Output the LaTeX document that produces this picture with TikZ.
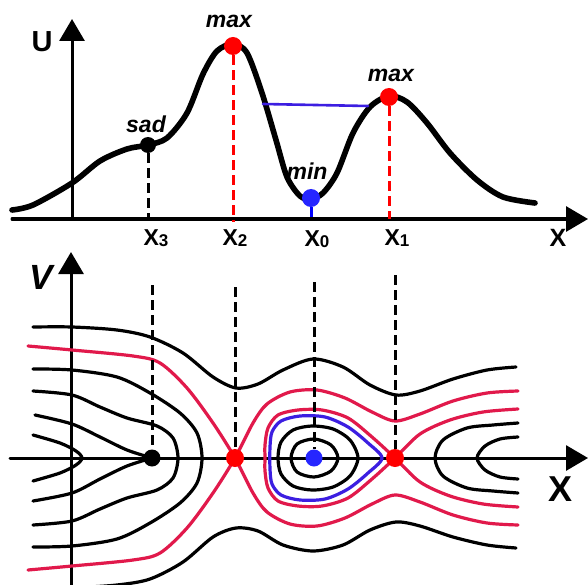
\documentclass[tikz,border=0pt]{standalone}
\usepackage{fontspec}
\setmainfont{Liberation Sans}
\usetikzlibrary{arrows.meta}
\definecolor{sepred}{RGB}{225,25,75}
\definecolor{orbblue}{RGB}{60,30,225}
\newcommand{\xsub}[1]{X\raisebox{-1.5pt}{\fontsize{17}{17}\selectfont #1}}
\begin{document}
\begin{tikzpicture}[x=1pt, y=-1pt, line cap=round, line join=round,
  axis/.style={line width=3pt, -{Triangle[length=22pt,width=25pt]}},
  dot/.style={circle, inner sep=0pt, minimum size=18pt},
  guide/.style={line width=3pt, dash pattern=on 10pt off 5pt, line cap=butt},
  traj/.style={line width=3.2pt},
  sep/.style={traj, draw=sepred},
  lbl/.style={font=\bfseries\itshape\fontsize{23}{23}\selectfont},
  tick/.style={font=\bfseries\fontsize{23}{23}\selectfont}]
  \fill[white] (0,0) rectangle (588,585);
  \useasboundingbox (0,0) rectangle (588,585);
  % potential U(x)
  \coordinate (x3) at (148,219);
  \coordinate (x2) at (233,222);
  \coordinate (x0) at (311,222);
  \coordinate (x1) at (389,219);
  \coordinate (lvlL) at (263,104);
  \coordinate (lvlR) at (368,106);
  \draw[axis] (12,219) -- (588,219);
  \draw[axis] (72,219) -- (72,19);
  \node[font=\bfseries\fontsize{29}{29}\selectfont] (ulbl) at (42,42) {U};
  \node[font=\bfseries\fontsize{25}{25}\selectfont] (xlbl) at (558,238) {X};
  \draw[line width=5.6pt] plot[smooth] coordinates {(12,210) (33,205) (72,183) (100,161) (127,149) (148,145) (167,138) (187,113) (203,74) (217,51) (233,44) (247,53) (262,93) (276,140) (287,177) (300,196) (311,199) (323,193) (337,173) (353,133) (370,107) (389,96) (407,102) (427,123) (450,153) (477,180) (503,197) (535,203)};
  \draw[line width=2.6pt, orbblue] (lvlL) -- (lvlR);
  \node[dot, fill=black, minimum size=16pt] (sad) at (148,145) {};
  \node[dot, fill=red] (max2) at (233,46) {};
  \node[dot, fill=blue!85!white] (min) at (311,198) {};
  \node[dot, fill=red] (max1) at (389,97) {};
  \draw[guide] (sad) -- (x3);
  \draw[guide, red] (max2) -- (x2);
  \draw[guide, blue] (min) -- (x0);
  \draw[guide, red] (max1) -- (x1);
  \node[lbl] (maxlbl2) at (229,21) {max};
  \node[lbl] (sadlbl) at (146,124) {sad};
  \node[lbl] (minlbl) at (307,171) {min};
  \node[lbl] (maxlbl1) at (391,75) {max};
  \node[tick] (x3lbl) at (156,238) {\xsub{3}};
  \node[tick] (x2lbl) at (235,238) {\xsub{2}};
  \node[tick] (x0lbl) at (317,239) {\xsub{0}};
  \node[tick] (x1lbl) at (397,238) {\xsub{1}};
  % phase portrait
  \draw[axis] (10,458) -- (588,458);
  \draw[axis] (71,585) -- (71,252);
  \node[font=\bfseries\itshape\fontsize{35}{35}\selectfont] (vlbl) at (41,277) {V};
  \node[font=\bfseries\fontsize{36}{36}\selectfont] (xlbl2) at (560,489) {X};
  \draw[traj] plot[smooth] coordinates {(33,327) (72,327) (117,330) (150,337) (183,353) (213,377) (236,388) (258,384) (283,370) (313,359) (343,367) (370,385) (396,395) (420,391) (453,379) (487,370) (516,367)};
  \draw[traj] plot[smooth] coordinates {(33,591) (72,588) (117,585) (150,579) (183,562) (213,537) (236,528) (258,531) (283,545) (313,551) (343,545) (370,530) (396,522) (420,526) (453,537) (487,545) (516,548)};
  \draw[traj] plot[smooth] coordinates {(33,369) (72,370) (117,377) (150,393) (180,413) (197,433) (202,458) (197,483) (180,503) (150,523) (117,539) (72,546) (33,547)};
  \draw[traj] plot[smooth] coordinates {(33,391) (72,395) (100,407) (127,418) (157,426) (173,438) (178,458) (173,478) (157,490) (127,498) (100,509) (72,521) (33,525)};
  \draw[traj] plot[smooth] coordinates {(35,415) (72,424) (100,437) (127,450) (152,458)};
  \draw[traj] plot[smooth] coordinates {(33,501) (72,493) (100,479) (127,466) (152,458)};
  \draw[traj] plot[smooth] coordinates {(33,435) (60,443) (76,451) (82,458) (76,465) (60,473) (33,481)};
  \draw[traj] plot[smooth] coordinates {(518,423) (493,425) (467,428) (443,440) (435,458) (443,476) (467,488) (493,491) (518,493)};
  \draw[traj] plot[smooth] coordinates {(518,437) (500,439) (485,446) (477,458) (485,470) (500,477) (518,479)};
  \draw[traj] plot[smooth cycle] coordinates {(358,458) (350,440) (333,429) (312,426) (293,430) (281,442) (278,458) (281,474) (293,486) (312,490) (333,487) (350,476)};
  \draw[traj] plot[smooth cycle] coordinates {(338,458) (331,445) (314,439) (297,444) (291,458) (297,472) (314,477) (331,471)};
  \draw[sep] plot[smooth] coordinates {(28,346) (72,350) (133,356) (160,363) (187,388) (213,423) (235,458) (253,493) (267,512) (290,524) (317,526) (345,518) (372,504) (395,495) (420,502) (453,515) (487,523) (518,525)};
  \draw[sep] plot[smooth] coordinates {(28,570) (72,566) (133,560) (160,553) (187,528) (213,493) (235,458) (253,423) (267,404) (290,392) (317,390) (345,398) (372,412) (395,421) (420,414) (453,401) (487,393) (518,391)};
  \draw[sep] plot[smooth] coordinates {(518,409) (483,412) (450,420) (420,434) (395,458) (372,479) (348,498) (322,506) (298,506) (278,501) (268,488) (265,471) (265,458) (265,445) (268,428) (278,415) (298,410) (322,410) (348,418) (372,437) (395,458) (420,482) (450,496) (483,504) (518,507)};
  \draw[traj, orbblue] plot[smooth cycle] coordinates {(382,458) (368,443) (348,427) (325,417) (300,416) (281,421) (272,432) (270,447) (270,469) (272,484) (281,495) (300,500) (325,499) (348,489) (368,473)};
  \coordinate (d3) at (152,285);
  \coordinate (d2) at (235,287);
  \coordinate (d0) at (314,282);
  \coordinate (d1) at (395,275);
  \node[dot, fill=black, minimum size=17pt] (sadpt) at (152,458) {};
  \node[dot, fill=red] (maxpt2) at (235,458) {};
  \node[dot, fill=blue!85!white, minimum size=17pt] (minpt) at (314,458) {};
  \node[dot, fill=red] (maxpt1) at (395,458) {};
  \draw[guide] (d3) -- (sadpt);
  \draw[guide] (d2) -- (maxpt2);
  \draw[guide] (d0) -- (minpt);
  \draw[guide] (d1) -- (maxpt1);
\end{tikzpicture}
\end{document}
